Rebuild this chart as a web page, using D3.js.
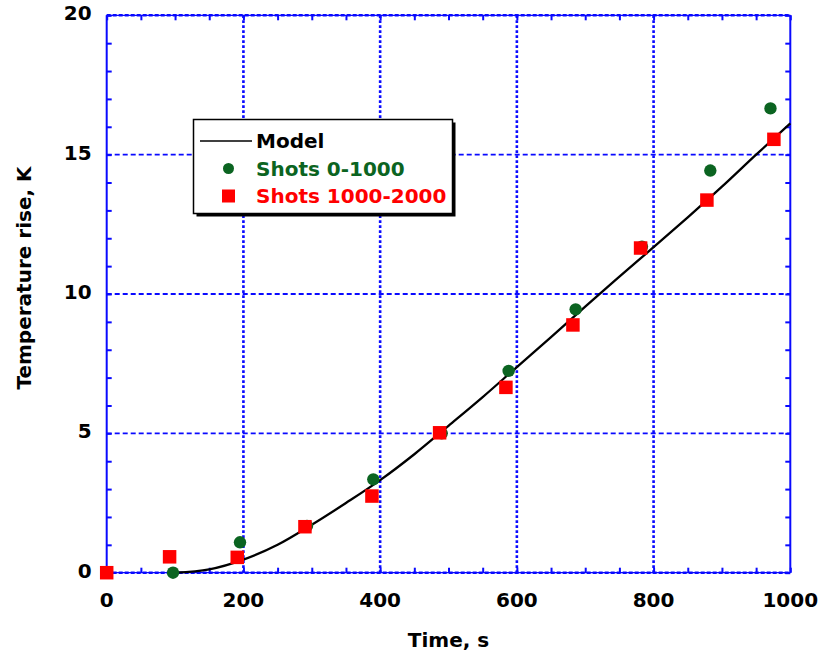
<!DOCTYPE html>
<html>
<head>
<meta charset="utf-8">
<script src="https://cdn.jsdelivr.net/npm/d3@7"></script>
<style>
  html, body { margin: 0; padding: 0; background: #fff; }
  svg { display: block; }
  text { font-family: "DejaVu Sans", Verdana, sans-serif; font-weight: bold; }
</style>
</head>
<body>
<svg id="chart" width="821" height="657"></svg>
<script>
// Time axis (s) and temperature rise (K)
const xTicks = [0, 200, 400, 600, 800, 1000];
const yTicks = [0, 5, 10, 15, 20];

// Model curve
const modelTime = [100, 150, 200, 250, 300, 350, 400, 450, 500, 550, 600, 650, 700, 750, 800, 850, 900, 950, 1000];
const modelRise = [0, 0.12, 0.47, 1.0, 1.72, 2.5, 3.32, 4.25, 5.27, 6.3, 7.38, 8.45, 9.55, 10.62, 11.68, 12.75, 13.85, 15.0, 16.12];

// Shots 0-1000
const shotsATime = [0, 97, 195, 293, 390, 490, 588, 686, 783, 883, 971];
const shotsARise = [0, 0, 1.09, 1.68, 3.35, 5.0, 7.24, 9.45, 11.7, 14.43, 16.66];

// Shots 1000-2000
const shotsBTime = [0, 92, 191, 290, 388, 487, 584, 682, 781, 878, 976];
const shotsBRise = [0, 0.57, 0.55, 1.65, 2.75, 5.02, 6.65, 8.89, 11.65, 13.37, 15.55];

const seriesNames = ["Model", "Shots 0-1000", "Shots 1000-2000"];
const seriesColors = ["#000000", "#0b6421", "#ff0000"];

const svg = d3.select("#chart");
const plotL = 106.7, plotR = 790.3, plotT = 15.3, plotB = 572.7;
const blue = "#0a0aff";

const x = d3.scaleLinear().domain([0, 1000]).range([plotL, plotR]);
const y = d3.scaleLinear().domain([0, 20]).range([plotB, plotT]);

// Grid lines
const grid = svg.append("g");
grid.selectAll("line.v").data(xTicks.slice(1, -1)).join("line")
  .attr("x1", d => x(d)).attr("x2", d => x(d))
  .attr("y1", plotT).attr("y2", plotB)
  .attr("stroke", blue).attr("stroke-width", 2.6).attr("stroke-dasharray", "2.6,2.4");
grid.selectAll("line.h").data(yTicks.slice(1, -1)).join("line")
  .attr("x1", plotL).attr("x2", plotR)
  .attr("y1", d => y(d)).attr("y2", d => y(d))
  .attr("stroke", blue).attr("stroke-width", 1.8).attr("stroke-dasharray", "5,3");

// Frame: solid sides, dashed top/bottom
svg.append("line").attr("x1", plotL).attr("x2", plotL).attr("y1", plotT).attr("y2", plotB)
  .attr("stroke", blue).attr("stroke-width", 2);
svg.append("line").attr("x1", plotR).attr("x2", plotR).attr("y1", plotT).attr("y2", plotB)
  .attr("stroke", blue).attr("stroke-width", 2);
[plotT, plotB].forEach(yy => {
  svg.append("line").attr("x1", plotL).attr("x2", plotR).attr("y1", yy).attr("y2", yy)
    .attr("stroke", blue).attr("stroke-width", 1.2);
  svg.append("line").attr("x1", plotL).attr("x2", plotR).attr("y1", yy).attr("y2", yy)
    .attr("stroke", blue).attr("stroke-width", 2.6).attr("stroke-dasharray", "4,2");
});

// Inward ticks on all four sides
const tickLen = 5;
const gBottom = svg.append("g").attr("transform", `translate(0,${plotB})`)
  .call(d3.axisTop(x).ticks(20).tickSize(tickLen).tickFormat(""));
const gTop = svg.append("g").attr("transform", `translate(0,${plotT})`)
  .call(d3.axisBottom(x).ticks(20).tickSize(tickLen).tickFormat(""));
const gLeft = svg.append("g").attr("transform", `translate(${plotL},0)`)
  .call(d3.axisRight(y).ticks(20).tickSize(tickLen).tickFormat(""));
const gRight = svg.append("g").attr("transform", `translate(${plotR},0)`)
  .call(d3.axisLeft(y).ticks(20).tickSize(tickLen).tickFormat(""));
[gBottom, gTop, gLeft, gRight].forEach(g => {
  g.select(".domain").remove();
  g.selectAll(".tick line").attr("stroke", blue).attr("stroke-width", 2);
});

// Tick labels
svg.append("g").selectAll("text").data(xTicks).join("text")
  .attr("x", d => x(d)).attr("y", plotB + 34)
  .attr("text-anchor", "middle").attr("font-size", 20).attr("fill", "#000")
  .text(d => d);
svg.append("g").selectAll("text").data(yTicks).join("text")
  .attr("x", plotL - 15).attr("y", d => y(d) + 5)
  .attr("text-anchor", "end").attr("font-size", 20).attr("fill", "#000")
  .text(d => d);

// Axis titles
svg.append("text").attr("x", (plotL + plotR) / 2).attr("y", 647)
  .attr("text-anchor", "middle").attr("font-size", 20).text("Time, s");
svg.append("text").attr("transform", "translate(31,278) rotate(-90)")
  .attr("text-anchor", "middle").attr("font-size", 20).text("Temperature rise, K");

// Model curve
const modelPts = modelTime.map((t, i) => [t, modelRise[i]]);
svg.append("path").datum(modelPts)
  .attr("d", d3.line().x(d => x(d[0])).y(d => y(d[1])).curve(d3.curveMonotoneX))
  .attr("fill", "none").attr("stroke", seriesColors[0]).attr("stroke-width", 2.3);

// Shots 0-1000: circles
svg.append("g").selectAll("circle").data(shotsATime.map((t, i) => [t, shotsARise[i]])).join("circle")
  .attr("cx", d => x(d[0])).attr("cy", d => y(d[1])).attr("r", 6.2)
  .attr("fill", seriesColors[1]);

// Shots 1000-2000: squares
const sq = 13.5;
svg.append("g").selectAll("rect").data(shotsBTime.map((t, i) => [t, shotsBRise[i]])).join("rect")
  .attr("x", d => x(d[0]) - sq / 2).attr("y", d => y(d[1]) - sq / 2)
  .attr("width", sq).attr("height", sq)
  .attr("fill", seriesColors[2]);

// Legend
const lg = svg.append("g");
const lx = 193.5, ly = 119.5, lw = 259, lh = 94;
lg.append("rect").attr("x", lx + 3).attr("y", ly + 3).attr("width", lw).attr("height", lh).attr("fill", "#000");
lg.append("rect").attr("x", lx).attr("y", ly).attr("width", lw).attr("height", lh)
  .attr("fill", "#fff").attr("stroke", "#000").attr("stroke-width", 1.5);
const rowY = [141, 168.5, 196];
lg.append("line").attr("x1", 200).attr("x2", 252).attr("y1", rowY[0]).attr("y2", rowY[0])
  .attr("stroke", seriesColors[0]).attr("stroke-width", 1.5);
lg.append("circle").attr("cx", 228.5).attr("cy", rowY[1]).attr("r", 5.5).attr("fill", seriesColors[1]);
lg.append("rect").attr("x", 228.5 - 6.5).attr("y", rowY[2] - 6.5).attr("width", 13).attr("height", 13)
  .attr("fill", seriesColors[2]);
lg.selectAll("text.lbl").data(seriesNames).join("text")
  .attr("x", 256).attr("y", (d, i) => rowY[i] + 7)
  .attr("font-size", 20).attr("fill", (d, i) => seriesColors[i])
  .text(d => d);
</script>
</body>
</html>
